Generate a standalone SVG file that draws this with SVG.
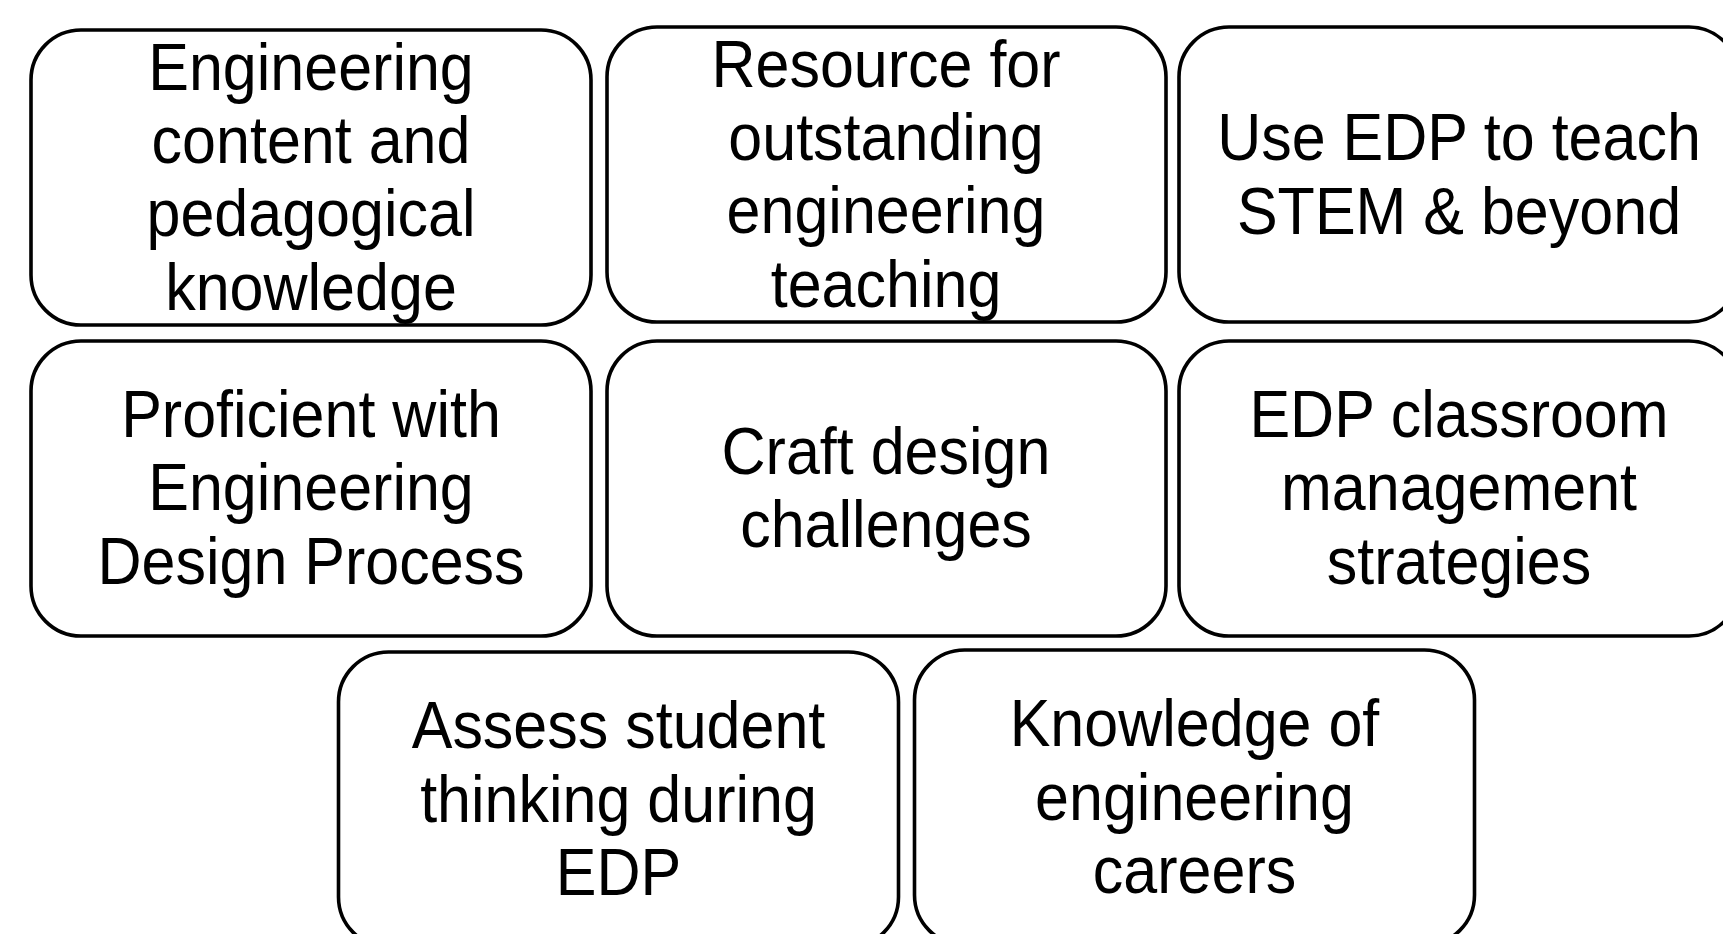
<svg xmlns="http://www.w3.org/2000/svg" width="1723" height="934" viewBox="0 0 1723 934">
  <style>
    .box { fill: #ffffff; stroke: #000000; stroke-width: 3.6; }
    .label { font-family: "Liberation Sans", Arial, sans-serif; font-size: 61px; fill: #000000; text-anchor: middle; }
  </style>
  <rect x="0" y="0" width="1723" height="934" fill="#ffffff"/>
  <g id="connectors"></g>

  <!-- Row 1 -->
  <g id="node-content-knowledge">
    <rect class="box" x="31" y="30" width="560" height="295" rx="50" ry="50"/>
    <text class="label" transform="translate(311 90) scale(1 1.09)">Engineering</text>
    <text class="label" transform="translate(311 163) scale(1 1.09)">content and</text>
    <text class="label" transform="translate(311 236) scale(1 1.09)">pedagogical</text>
    <text class="label" transform="translate(311 310) scale(1 1.09)">knowledge</text>
  </g>
  <g id="node-resource">
    <rect class="box" x="607" y="27" width="559" height="295" rx="50" ry="50"/>
    <text class="label" transform="translate(886 87) scale(1 1.09)">Resource for</text>
    <text class="label" transform="translate(886 160) scale(1 1.09)">outstanding</text>
    <text class="label" transform="translate(886 233) scale(1 1.09)">engineering</text>
    <text class="label" transform="translate(886 307) scale(1 1.09)">teaching</text>
  </g>
  <g id="node-use-edp">
    <rect class="box" x="1179" y="27" width="560" height="295" rx="50" ry="50"/>
    <text class="label" transform="translate(1459 160) scale(1 1.09)">Use EDP to teach</text>
    <text class="label" transform="translate(1459 234) scale(1 1.09)">STEM &amp; beyond</text>
  </g>

  <!-- Row 2 -->
  <g id="node-proficient">
    <rect class="box" x="31" y="341" width="560" height="295" rx="50" ry="50"/>
    <text class="label" transform="translate(311 437) scale(1 1.09)">Proficient with</text>
    <text class="label" transform="translate(311 510) scale(1 1.09)">Engineering</text>
    <text class="label" transform="translate(311 584) scale(1 1.09)">Design Process</text>
  </g>
  <g id="node-craft">
    <rect class="box" x="607" y="341" width="559" height="295" rx="50" ry="50"/>
    <text class="label" transform="translate(886 474) scale(1 1.09)">Craft design</text>
    <text class="label" transform="translate(886 547) scale(1 1.09)">challenges</text>
  </g>
  <g id="node-classroom">
    <rect class="box" x="1179" y="341" width="560" height="295" rx="50" ry="50"/>
    <text class="label" transform="translate(1459 437) scale(1 1.09)">EDP classroom</text>
    <text class="label" transform="translate(1459 510) scale(1 1.09)">management</text>
    <text class="label" transform="translate(1459 584) scale(1 1.09)">strategies</text>
  </g>

  <!-- Row 3 -->
  <g id="node-assess">
    <rect class="box" x="338.5" y="652" width="560" height="295" rx="50" ry="50"/>
    <text class="label" transform="translate(618.5 748) scale(1 1.09)">Assess student</text>
    <text class="label" transform="translate(618.5 822) scale(1 1.09)">thinking during</text>
    <text class="label" transform="translate(618.5 895) scale(1 1.09)">EDP</text>
  </g>
  <g id="node-careers">
    <rect class="box" x="914.5" y="650" width="560" height="295" rx="50" ry="50"/>
    <text class="label" transform="translate(1194.5 746) scale(1 1.09)">Knowledge of</text>
    <text class="label" transform="translate(1194.5 820) scale(1 1.09)">engineering</text>
    <text class="label" transform="translate(1194.5 893) scale(1 1.09)">careers</text>
  </g>
</svg>
